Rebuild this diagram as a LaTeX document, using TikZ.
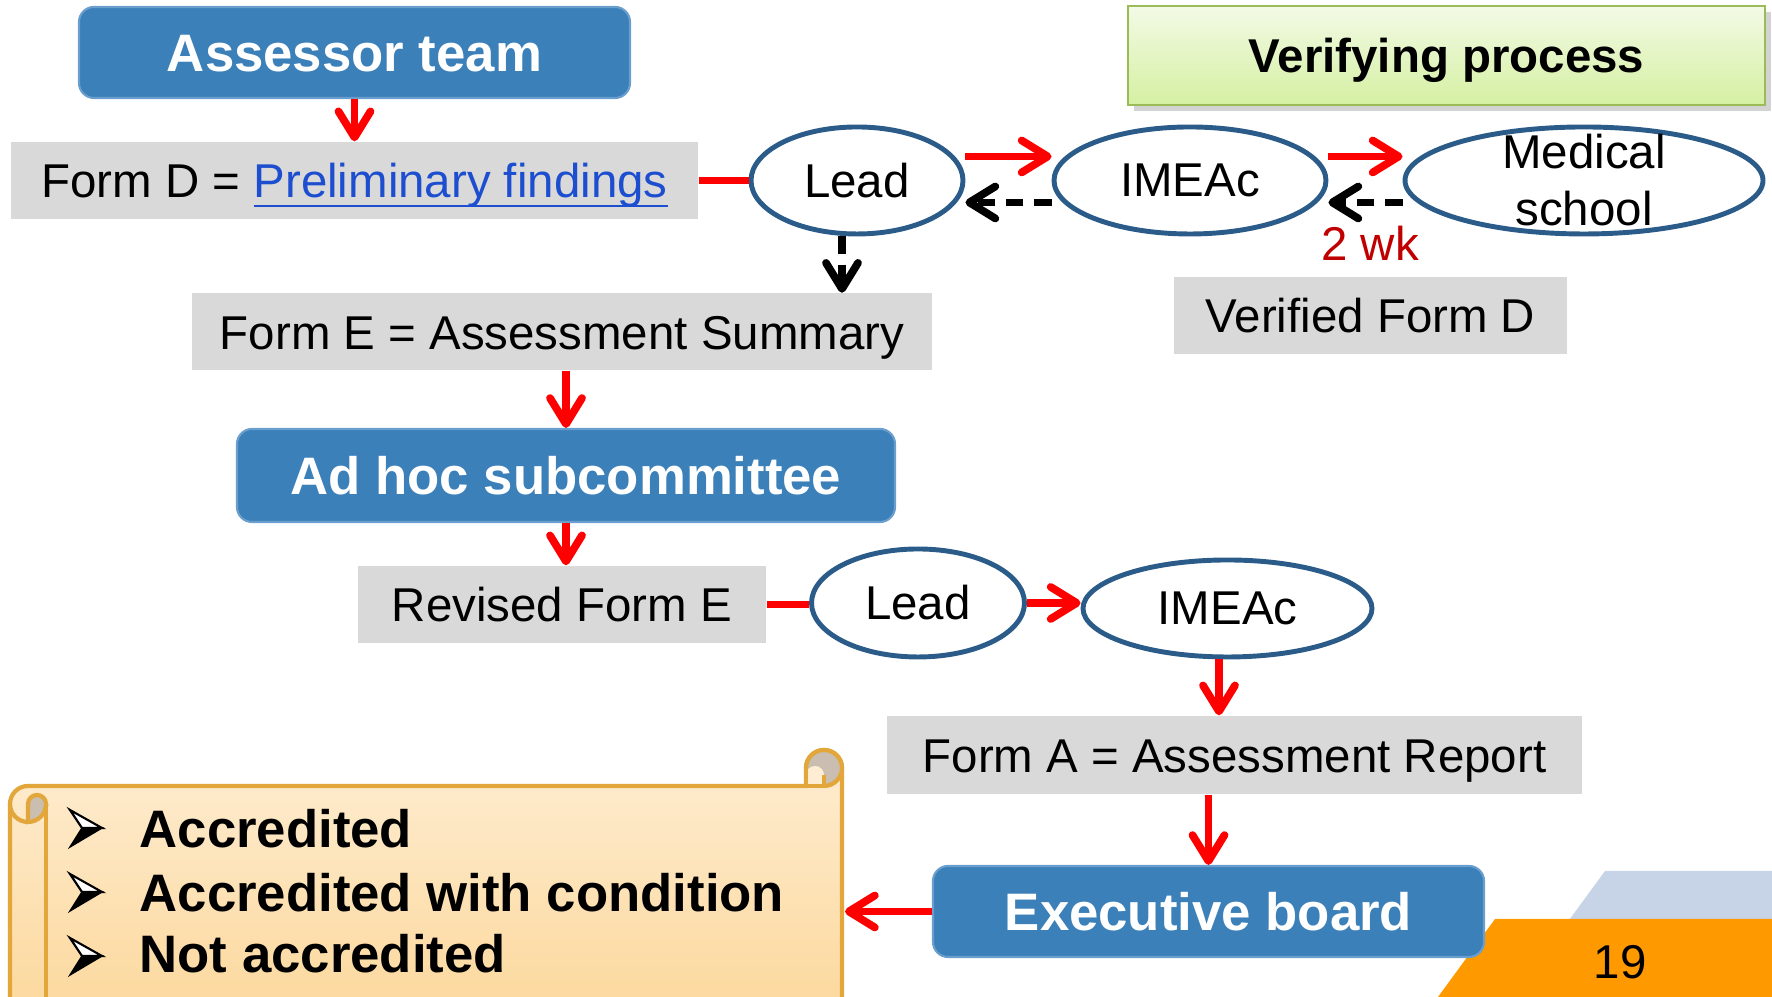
\documentclass[tikz,border=0pt]{standalone}
\usepackage{fontspec}
\setmainfont{Liberation Sans}
\usetikzlibrary{arrows.meta,shapes.geometric,shadows}

\definecolor{boxblue}{RGB}{60,128,186}
\definecolor{boxedge}{RGB}{105,158,205}
\definecolor{formgray}{RGB}{217,217,217}
\definecolor{ovalblue}{RGB}{43,91,137}
\definecolor{arrowred}{RGB}{255,0,0}
\definecolor{wkred}{RGB}{192,0,0}
\definecolor{linkblue}{RGB}{28,78,207}
\definecolor{greentop}{RGB}{243,250,230}
\definecolor{greenbot}{RGB}{213,240,162}
\definecolor{greenline}{RGB}{155,187,89}
\definecolor{scrolltop}{RGB}{254,237,210}
\definecolor{scrollbot}{RGB}{252,216,156}
\definecolor{scrollline}{RGB}{226,166,58}
\definecolor{scrollgray}{RGB}{201,190,175}
\definecolor{pageblue}{RGB}{199,212,232}
\definecolor{pageorange}{RGB}{255,153,0}

\newcommand{\weblink}[1]{\leavevmode\setbox0\hbox{#1}\rlap{\rule[-2.8pt]{\wd0}{0.8pt}}\box0}

\tikzset{
    normaltext/.style={font=\fontsize{13.5}{16.2}\selectfont},
    titlebox/.style={rectangle, rounded corners=0.15cm, fill=boxblue, draw=boxedge, line width=0.6pt, text=white, font=\fontsize{15}{18}\selectfont\bfseries, text height=10.7pt, text depth=0pt, minimum width=#1, minimum height=0.91cm, inner sep=0pt},
    formbox/.style={rectangle, fill=formgray, normaltext, text height=9.7pt, text depth=0pt, minimum width=#1, minimum height=0.77cm, inner sep=0pt},
    oval/.style={ellipse, draw=ovalblue, line width=1.4pt, fill=white, normaltext, minimum width=#1, minimum height=1.07cm, inner sep=0pt},
    greenbox/.style={rectangle, top color=greentop, bottom color=greenbot, draw=greenline, line width=0.8pt, font=\fontsize{13.5}{16}\selectfont\bfseries, text height=9.7pt, text depth=0pt, minimum width=6.37cm, minimum height=0.99cm, inner sep=0pt, drop shadow={shadow xshift=0.6mm, shadow yshift=-0.6mm, opacity=0.35}},
    redarrow/.style={draw=arrowred, line width=2.2pt, -{Straight Barb[round, length=2.6mm, width=3.2mm]}},
    redline/.style={draw=arrowred, line width=2.2pt},
    dasharrow/.style={draw=black, line width=2.2pt, dash pattern=on 5pt off 3pt, -{Straight Barb[round, length=2.6mm, width=3.2mm]}},
    bullettext/.style={font=\fontsize{15}{18}\selectfont\bfseries, anchor=base west, inner sep=0pt},
}

\begin{document}
\begin{tikzpicture}
        \useasboundingbox (0,0) rectangle (17.72,9.97);

        \fill[pageblue] (16.05,1.26) -- (17.72,1.26) -- (17.72,0.70) -- (15.64,0.70) -- cycle;
        \fill[pageorange] (14.95,0.78) -- (17.72,0.78) -- (17.72,0) -- (14.38,0) -- cycle;
        \node[normaltext] (pagenum) at (16.20,0.35) {19};

        \draw[draw=scrollline, line width=1.2pt, top color=scrolltop, bottom color=scrollbot]
            (0.10,-0.2) -- (0.10,1.93) arc[start angle=180, end angle=90, radius=0.18]
            -- (8.06,2.11) -- (8.06,2.29) arc[start angle=180, end angle=0, radius=0.18]
            -- (8.42,-0.2) -- cycle;
        \filldraw[fill=scrollgray, draw=scrollline, line width=1.2pt] (8.24,2.29) circle (0.18);
        \fill[scrolltop] (8.06,2.11) -- (8.06,2.22) arc[start angle=180, end angle=0, radius=0.09] -- (8.24,2.11) -- cycle;
        \draw[scrollline, line width=1.2pt] (8.06,2.11) -- (8.06,2.29);
        \draw[scrollline, line width=1.2pt] (8.24,2.11) -- (8.24,2.22);
        \draw[scrollline, line width=1.2pt] (8.06,2.11) -- (8.24,2.11);
        \filldraw[fill=scrollgray, draw=scrollline, line width=1.2pt] (0.46,1.93) arc[start angle=0, end angle=180, radius=0.09]
            -- (0.28,1.75) arc[start angle=270, end angle=360, radius=0.18] -- cycle;
        \draw[scrollline, line width=1.2pt] (0.10,1.93) arc[start angle=180, end angle=270, radius=0.18];
        \draw[scrollline, line width=1.2pt] (0.46,1.93) -- (0.46,-0.2);
        \coordinate (scrolledge) at (8.45,0.855);

        \filldraw[fill=white, draw=black, line width=0.6pt] (0.70,1.87) -- (1.02,1.69) -- (0.82,1.69) -- cycle;
        \filldraw[black] (0.70,1.50) -- (1.02,1.69) -- (0.82,1.69) -- cycle;
        \filldraw[fill=white, draw=black, line width=0.6pt] (0.70,1.23) -- (1.02,1.05) -- (0.82,1.05) -- cycle;
        \filldraw[black] (0.70,0.86) -- (1.02,1.05) -- (0.82,1.05) -- cycle;
        \filldraw[fill=white, draw=black, line width=0.6pt] (0.70,0.59) -- (1.02,0.41) -- (0.82,0.41) -- cycle;
        \filldraw[black] (0.70,0.22) -- (1.02,0.41) -- (0.82,0.41) -- cycle;
        \node[bullettext] (acc1) at (1.39,1.49) {Accredited};
        \node[bullettext] (acc2) at (1.39,0.85) {Accredited with condition};
        \node[bullettext] (acc3) at (1.39,0.24) {Not accredited};

        \node[titlebox=5.51cm] (assessor) at (3.545,9.445) {Assessor team};
        \node[formbox=6.87cm] (formD) at (3.545,8.165) {Form D = \textcolor{linkblue}{\weblink{Preliminary findings}}};
        \node[oval=2.12cm] (lead1) at (8.57,8.165) {Lead};
        \node[oval=2.72cm] (imeac1) at (11.90,8.165) {IMEAc};
        \node[oval=3.58cm, label={[normaltext, align=center]center:Medical\\school}] (medical) at (15.84,8.165) {};
        \node[greenbox] (verify) at (14.465,9.415) {Verifying process};
        \node[normaltext, text=wkred] (twowk) at (13.70,7.54) {2 wk};
        \node[formbox=3.93cm] (verified) at (13.705,6.815) {Verified Form D};
        \node[formbox=7.40cm] (formE) at (5.62,6.65) {Form E = Assessment Summary};
        \node[titlebox=6.58cm, minimum height=0.93cm] (adhoc) at (5.66,5.215) {Ad hoc subcommittee};
        \node[formbox=4.08cm] (revised) at (5.62,3.925) {Revised Form E};
        \node[oval=2.13cm, minimum height=1.08cm] (lead2) at (9.18,3.94) {Lead};
        \node[oval=2.89cm, minimum height=0.97cm] (imeac2) at (12.275,3.885) {IMEAc};
        \node[formbox=6.95cm, minimum height=0.78cm] (formA) at (12.345,2.42) {Form A = Assessment Report};
        \node[titlebox=5.51cm] (exec) at (12.085,0.855) {Executive board};

        \draw[redarrow] (assessor) -- (formD);
        \draw[redline] (formD.east) -- (lead1.west);
        \draw[redarrow] ([yshift=2.4mm]lead1.east) -- ([yshift=2.4mm]imeac1.west);
        \draw[dasharrow] ([yshift=-2.2mm]imeac1.west) -- ([yshift=-2.2mm]lead1.east);
        \draw[redarrow] ([yshift=2.4mm]imeac1.east) -- ([yshift=2.4mm]medical.west);
        \draw[dasharrow] ([yshift=-2.2mm]medical.west) -- ([yshift=-2.2mm]imeac1.east);
        \draw[dasharrow] ([xshift=-1.5mm]lead1.south) -- ([xshift=-1.5mm]lead1.south |- formE.north);
        \draw[redarrow] (adhoc.north |- formE.south) -- (adhoc.north);
        \draw[redarrow] (adhoc.south) -- (adhoc.south |- revised.north);
        \draw[redline] (revised.east) -- (revised.east -| lead2.west);
        \draw[redarrow] (lead2.east) -- (lead2.east -| imeac2.west);
        \draw[redarrow] ([xshift=-0.85mm]imeac2.south) -- ([xshift=-0.85mm]imeac2.south |- formA.north);
        \draw[redarrow] (exec.north |- formA.south) -- (exec.north);
        \draw[redarrow] (exec.west) -- (scrolledge);
\end{tikzpicture}
\end{document}
